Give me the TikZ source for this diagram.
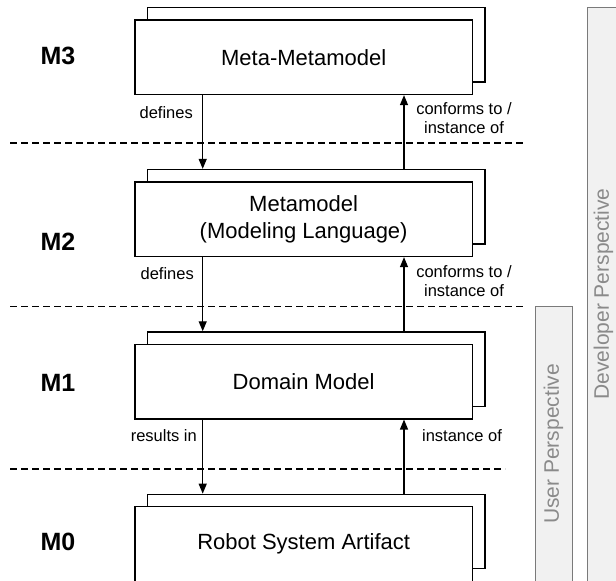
\documentclass[tikz,border=0pt]{standalone}
\usepackage{fontspec}
\setmainfont{Liberation Sans}
\usetikzlibrary{arrows.meta}
\definecolor{pfill}{HTML}{F1F1F1}
\definecolor{pdraw}{HTML}{7A7A7A}
\definecolor{ptext}{HTML}{8A8A8A}
\begin{document}
\begin{tikzpicture}[x=1pt,y=-1pt,
 box/.style={draw=black, line width=1.3pt, fill=white, minimum width=337.3pt, minimum height=74.5pt, inner sep=0pt, font=\fontsize{22}{26.6}\selectfont, align=center},
 lvl/.style={font=\bfseries\fontsize{25}{30}\selectfont, inner sep=0pt},
 lab/.style={font=\fontsize{16.5}{19}\selectfont, align=center, inner sep=0pt},
 arr/.style={line width=1.3pt, -{Triangle[length=10pt,width=8pt]}},
 sep/.style={line width=1.3pt, dash pattern=on 7pt off 4pt},
 panel/.style={draw=pdraw, fill=pfill, line width=1pt},
 ptxt/.style={text=ptext, font=\fontsize{21}{25}\selectfont, rotate=90, inner sep=0pt}
]
\useasboundingbox (0,0) rectangle (616,581);
\clip (0,0) rectangle (616,581);
\fill[white] (0,0) rectangle (616,581);

% perspective panels
\draw[panel] (587,7) rectangle (620,590);
\node[ptxt] (devp) at (603.5,294) {Developer Perspective};
\draw[panel] (535,306.7) rectangle (572,590);
\node[ptxt] (usrp) at (553.5,444) {User Perspective};

% separators
\coordinate (s1a) at (10,143);   \coordinate (s1b) at (523,143);
\coordinate (s2a) at (10,306.7); \coordinate (s2b) at (523,306.7);
\coordinate (s3a) at (10,469);   \coordinate (s3b) at (505,469);
\draw[sep] (s1a) -- (s1b);
\draw[sep] (s2a) -- (s2b);
\draw[sep] (s3a) -- (s3b);

% level labels
\node[lvl] (l3) at (58,55.8) {M3};
\node[lvl] (l2) at (58,242) {M2};
\node[lvl] (l1) at (58,383) {M1};
\node[lvl] (l0) at (58,541.5) {M0};

% boxes (back then front)
\node[box] (m3b) at (316.35,44.75) {};
\node[box] (m3) at (303.65,57.25) {Meta-Metamodel};
\node[box] (m2b) at (316.35,206.75) {};
\node[box] (m2) at (303.65,219.25) {Metamodel\\(Modeling Language)};
\node[box] (m1b) at (316.35,369.15) {};
\node[box] (m1) at (303.65,381.65) {Domain Model};
\node[box] (m0b) at (316.35,531.55) {};
\node[box] (m0) at (303.65,544.05) {Robot System Artifact};

% arrow columns
\coordinate (dl) at (202.7,0);
\coordinate (ul) at (404,0);

\draw[arr] (m3.south -| dl) -- (m2b.north -| dl);
\draw[arr] (m2b.north -| ul) -- (m3.south -| ul);
\draw[arr] (m2.south -| dl) -- (m1b.north -| dl);
\draw[arr] (m1b.north -| ul) -- (m2.south -| ul);
\draw[arr] (m1.south -| dl) -- (m0b.north -| dl);
\draw[arr] (m0b.north -| ul) -- (m1.south -| ul);

% connector labels
\node[lab, anchor=east] (d1) at (193,113) {defines};
\node[lab] (c1) at (464,118.5) {conforms to /\\instance of};
\node[lab, anchor=east] (d2) at (194,274) {defines};
\node[lab] (c2) at (464,281) {conforms to /\\instance of};
\node[lab, anchor=east] (r1) at (197,436) {results in};
\node[lab] (i1) at (462,436) {instance of};
\end{tikzpicture}
\end{document}
